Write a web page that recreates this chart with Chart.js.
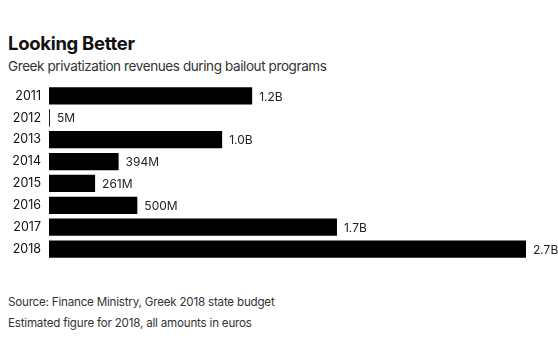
<!DOCTYPE html>
<html><head><meta charset="utf-8">
<script src="https://cdn.jsdelivr.net/npm/chart.js@4/dist/chart.umd.min.js"></script>
<style>
html,body{margin:0;padding:0;background:#fff;width:558px;height:350px;overflow:hidden;font-family:Inter,"Liberation Sans",sans-serif;}
#title{position:absolute;left:8px;top:32px;font-size:18.5px;font-weight:700;color:#111;letter-spacing:-0.3px;}
#sub{position:absolute;left:8px;top:58px;font-size:13.5px;color:#333;letter-spacing:-0.4px;}
#src{position:absolute;left:8px;top:292px;font-size:11.6px;color:#333;letter-spacing:-0.2px;line-height:21px;}
#c{position:absolute;left:0;top:85px;}
</style></head><body>
<div id="title">Looking Better</div>
<div id="sub">Greek privatization revenues during bailout programs</div>
<div id="src">Source: Finance Ministry, Greek 2018 state budget<br>Estimated figure for 2018, all amounts in euros</div>
<canvas id="c" width="558" height="175" style="width:558px;height:175px"></canvas>
<script>
const years = ["2011","2012","2013","2014","2015","2016","2017","2018"];
const revenuesBn = [1.15, 0.005, 0.98, 0.394, 0.261, 0.5, 1.63, 2.7];
const valueLabels = ["1.2B","5M","1.0B","394M","261M","500M","1.7B","2.7B"];

const labelPlugin = {
  id:'valLabels',
  afterDatasetsDraw(chart){
    const ctx = chart.ctx;
    const meta = chart.getDatasetMeta(0);
    ctx.save();
    ctx.font = '12px Inter, "Liberation Sans", sans-serif';
    ctx.fillStyle = '#222';
    ctx.textBaseline = 'middle';
    ctx.textAlign = 'left';
    meta.data.forEach((bar,i)=>{
      ctx.fillText(valueLabels[i], bar.x + 7, bar.y + 1);
    });
    ctx.restore();
  }
};

new Chart(document.getElementById('c'), {
  type:'bar',
  data:{labels:years, datasets:[{data:revenuesBn, backgroundColor:'#000', borderWidth:0, categoryPercentage:1, barPercentage:0.79}]},
  options:{
    indexAxis:'y', responsive:false, animation:false, devicePixelRatio:1,
    layout:{autoPadding:false, padding:{left:0,right:32,top:0,bottom:0}},
    plugins:{legend:{display:false}, tooltip:{enabled:false}},
    scales:{
      x:{min:0,max:2.7,display:false},
      y:{
        grid:{display:false, drawTicks:false}, border:{display:false},
        ticks:{color:'#111', font:{size:12.5, family:'Inter, "Liberation Sans", sans-serif'}, padding:8},
        afterFit(s){ s.width = 49; s.paddingTop = 0; s.paddingBottom = 0; }
      }
    }
  },
  plugins:[labelPlugin]
});
</script>
</body></html>
